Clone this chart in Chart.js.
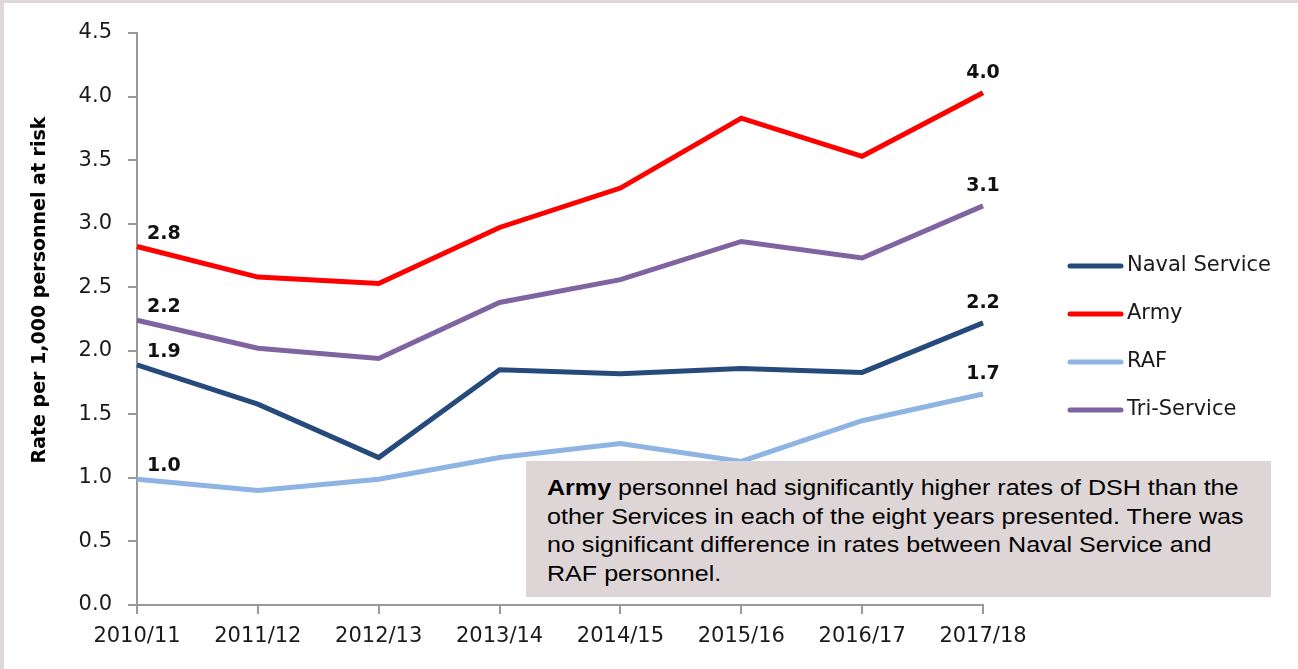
<!DOCTYPE html>
<html>
<head>
<meta charset="utf-8">
<script src="https://cdn.jsdelivr.net/npm/chart.js@4"></script>
<style>
  html, body { margin: 0; padding: 0; background: #ffffff; }
  #wrap { position: relative; width: 1298px; height: 669px; overflow: hidden; background: #ffffff; }
  #bTop { position: absolute; left: 0; top: 0; width: 1298px; height: 3px; background: #e0d8d8; }
  #bLeft { position: absolute; left: 0; top: 0; width: 4px; height: 669px; background: #e0d8d8; }
  #chart { position: absolute; left: 0; top: 0; }
  #note {
    position: absolute; left: 526px; top: 461px; width: 745px; height: 136px;
    background: #ded6d6; box-sizing: border-box; padding: 13px 0 0 21px; overflow: hidden;
  }
  #noteText {
    font-family: "Liberation Sans", Arial, sans-serif; font-size: 22px; line-height: 28.7px; color: #000;
    transform: scaleX(1.14); transform-origin: left top; white-space: nowrap;
  }
</style>
</head>
<body>
<div id="wrap">
  <canvas id="chart" width="1298" height="669"></canvas>
  <div id="bTop"></div>
  <div id="bLeft"></div>
  <div id="note"><div id="noteText"><b>Army</b> personnel had significantly higher rates of DSH than the<br>other Services in each of the eight years presented. There was<br>no significant difference in rates between Naval Service and<br>RAF personnel.</div></div>
</div>
<script>
const categories = ["2010/11", "2011/12", "2012/13", "2013/14", "2014/15", "2015/16", "2016/17", "2017/18"];
const seriesNames = ["Naval Service", "Army", "RAF", "Tri-Service"];
const navalService = [1.89, 1.58, 1.16, 1.85, 1.82, 1.86, 1.83, 2.22];
const army = [2.82, 2.58, 2.53, 2.97, 3.28, 3.83, 3.53, 4.03];
const raf = [0.99, 0.90, 0.99, 1.16, 1.27, 1.13, 1.45, 1.66];
const triService = [2.24, 2.02, 1.94, 2.38, 2.56, 2.86, 2.73, 3.14];
const yTicks = [0, 0.5, 1.0, 1.5, 2.0, 2.5, 3.0, 3.5, 4.0, 4.5];
const yTitle = "Rate per 1,000 personnel at risk";

const colors = ["#254a7b", "#ff0000", "#8db4e2", "#8064a2"];
const values = [navalService, army, raf, triService];

const labelPlugin = {
  id: 'extras',
  afterDatasetsDraw(chart) {
    const ctx = chart.ctx;
    ctx.save();
    ctx.font = 'bold 19px "DejaVu Sans"';
    ctx.fillStyle = '#111';
    chart.data.datasets.forEach((ds, i) => {
      const meta = chart.getDatasetMeta(i);
      const first = meta.data[0];
      const last = meta.data[meta.data.length - 1];
      ctx.textAlign = 'left';
      ctx.textBaseline = 'alphabetic';
      ctx.fillText(ds.data[0].toFixed(1), first.x + 10, first.y - 8);
      ctx.textAlign = 'center';
      ctx.fillText(ds.data[ds.data.length - 1].toFixed(1), last.x, last.y - 15);
    });
    // y title
    ctx.translate(40, 290);
    ctx.rotate(-Math.PI / 2);
    ctx.textAlign = 'center';
    ctx.textBaseline = 'middle';
    ctx.fillStyle = '#000';
    ctx.font = 'bold 19px "DejaVu Sans"';
    ctx.fillText(yTitle, 0, 0);
    ctx.restore();

    // legend
    ctx.save();
    ctx.font = '21px "DejaVu Sans"';
    ctx.textBaseline = 'middle';
    ctx.textAlign = 'left';
    chart.data.datasets.forEach((ds, i) => {
      const y = 266 + i * 48;
      ctx.strokeStyle = ds.borderColor;
      ctx.lineWidth = 5;
      ctx.lineCap = 'round';
      ctx.beginPath();
      ctx.moveTo(1070, y);
      ctx.lineTo(1121, y);
      ctx.stroke();
      ctx.fillStyle = '#1a1a1a';
      ctx.fillText(ds.label, 1127, y);
    });
    ctx.restore();
  }
};

new Chart(document.getElementById('chart'), {
  type: 'line',
  data: {
    labels: categories,
    datasets: seriesNames.map((n, i) => ({
      label: n,
      data: values[i],
      borderColor: colors[i],
      backgroundColor: colors[i],
      borderWidth: 5,
      pointRadius: 0,
      tension: 0,
      fill: false
    }))
  },
  options: {
    responsive: false,
    animation: false,
    devicePixelRatio: 1,
    layout: { padding: { left: 28, top: 33, right: 315, bottom: 0 } },
    plugins: { legend: { display: false }, tooltip: { enabled: false } },
    scales: {
      x: {
        offset: false,
        grid: { display: true, drawOnChartArea: false, drawTicks: true, tickLength: 9, color: '#999', lineWidth: 2 },
        border: { display: true, color: '#999', width: 2 },
        ticks: { color: '#1a1a1a', font: { family: 'DejaVu Sans', size: 21 }, padding: 10, maxRotation: 0, autoSkip: false },
        afterFit(s) { s.height = 64; }
      },
      y: {
        min: 0, max: 4.5,
        afterBuildTicks(s) { s.ticks = yTicks.map(v => ({ value: v })); },
        grid: { display: true, drawOnChartArea: false, drawTicks: true, tickLength: 9, color: '#999', lineWidth: 2 },
        border: { display: true, color: '#999', width: 2 },
        ticks: { color: '#1a1a1a', font: { family: 'DejaVu Sans', size: 21 }, padding: 16, callback: v => Number(v).toFixed(1) },
        afterFit(s) { s.width = 109; }
      }
    }
  },
  plugins: [labelPlugin]
});
</script>
</body>
</html>
